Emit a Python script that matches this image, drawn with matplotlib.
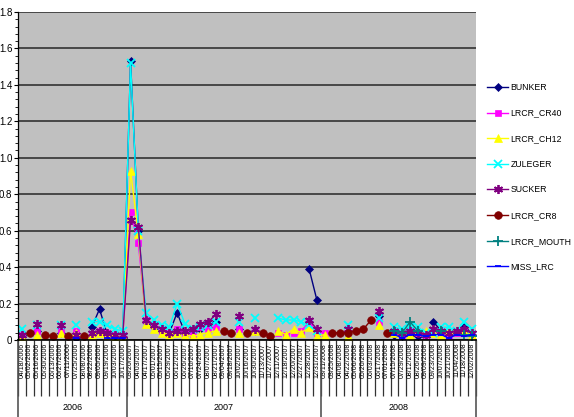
import numpy as np
import matplotlib
matplotlib.use("Agg")
import matplotlib.pyplot as plt
from matplotlib.ticker import MultipleLocator, FixedLocator

plt.rcParams['font.family'] = ['Liberation Sans Narrow', 'Liberation Sans', 'DejaVu Sans']

N = None

# sampling dates (categories)
dates_2006 = ["04/18/2006", "05/02/2006", "05/16/2006", "05/30/2006", "06/13/2006",
              "06/27/2006", "07/11/2006", "07/25/2006", "08/08/2006", "08/22/2006",
              "09/05/2006", "09/19/2006", "10/03/2006", "10/17/2006"]
dates_2007 = ["03/20/2007", "04/03/2007", "04/17/2007", "05/01/2007", "05/15/2007",
              "05/29/2007", "06/12/2007", "06/26/2007", "07/10/2007", "07/24/2007",
              "08/07/2007", "08/21/2007", "09/04/2007", "09/18/2007", "10/02/2007",
              "10/16/2007", "10/30/2007", "11/13/2007", "11/27/2007", "12/11/2007",
              "12/18/2007", "12/20/2007", "12/27/2007", "12/28/2007", "12/31/2007"]
dates_2008 = ["03/11/2008", "03/25/2008", "04/08/2008", "04/22/2008", "05/06/2008",
              "05/20/2008", "06/03/2008", "06/17/2008", "07/01/2008", "07/15/2008",
              "07/29/2008", "08/12/2008", "08/26/2008", "09/09/2008", "09/23/2008",
              "10/07/2008", "10/21/2008", "11/04/2008", "11/18/2008", "12/02/2008"]
years = ["2006", "2007", "2008"]
dates = dates_2006 + dates_2007 + dates_2008

bunker = [0.03, N, 0.05, N, N, 0.04, N, 0.01, N, 0.07, 0.17, 0.03, 0.01, 0.01,
          1.53, 0.60, 0.10, 0.07, 0.05, 0.04, 0.15, 0.04, 0.05, 0.06, 0.07, 0.10, N, N,
          0.06, N, 0.05, N, N, N, N, N, N, 0.39, 0.22,
          N, N, N, N, N, N, N, 0.13, N, 0.03, 0.02, 0.03, 0.02, N, 0.10, 0.05, 0.03, N, 0.08, 0.03]
lrcr_cr40 = [0.03, N, 0.05, N, N, 0.05, N, 0.05, N, 0.03, 0.05, 0.04, 0.03, 0.03,
             0.70, 0.53, 0.11, 0.08, 0.05, 0.04, 0.06, 0.04, 0.03, 0.07, 0.06, 0.07, N, N,
             0.06, N, 0.05, N, N, 0.04, 0.03, 0.04, 0.05, 0.10, 0.04,
             0.04, N, N, N, N, N, N, 0.10, N, 0.04, 0.03, 0.05, 0.04, 0.03, 0.05, 0.03, 0.02, 0.04, 0.05, 0.03]
lrcr_ch12 = [0.02, N, 0.03, N, N, 0.04, N, 0.04, N, 0.03, 0.04, 0.03, 0.02, 0.02,
             0.93, 0.58, 0.09, 0.06, 0.04, 0.03, 0.04, 0.03, 0.02, 0.03, 0.04, 0.05, N, N,
             0.04, N, 0.05, N, N, 0.05, 0.03, 0.06, 0.04, 0.07, 0.02,
             0.03, N, N, 0.02, N, N, N, 0.08, N, 0.04, 0.05, 0.03, 0.05, 0.05, 0.04, 0.03, 0.05, 0.05, 0.05, 0.03]
zuleger = [0.06, N, 0.08, N, N, 0.08, N, 0.08, N, 0.10, 0.10, 0.08, 0.06, 0.05,
           1.52, 0.60, 0.15, 0.11, 0.08, 0.07, 0.20, 0.09, 0.06, 0.07, 0.08, 0.10, N, N,
           0.10, N, 0.12, N, N, 0.12, 0.11, 0.11, 0.10, 0.08, 0.05,
           N, N, N, 0.08, N, N, N, 0.12, N, 0.07, 0.06, 0.07, 0.07, 0.04, 0.04, 0.07, 0.07, 0.05, 0.10, 0.06]
sucker = [0.03, N, 0.09, N, N, 0.08, N, 0.03, N, 0.04, 0.05, 0.04, 0.03, 0.03,
          0.66, 0.62, 0.11, 0.08, 0.06, 0.04, 0.05, 0.05, 0.06, 0.09, 0.10, 0.14, N, N,
          0.13, N, 0.06, N, N, N, N, N, N, 0.11, 0.06,
          N, N, N, 0.06, N, N, N, 0.16, N, 0.05, 0.04, 0.05, 0.04, 0.03, 0.06, 0.05, 0.04, 0.05, 0.06, 0.04]
lrcr_cr8 = [N, 0.04, N, 0.03, 0.02, N, 0.02, N, 0.02, N, N, N, N, N,
            N, N, N, N, N, N, N, N, N, N, N, N, 0.05, 0.04,
            N, 0.04, N, 0.04, 0.02, N, N, N, N, N, N,
            N, 0.04, 0.04, 0.04, 0.05, 0.06, 0.11, N, 0.04, N, N, N, N, N, N, N, N, N, N, N]
lrcr_mouth = [N] * 48 + [0.05, 0.04, 0.10, 0.05, N, N, 0.05, N, N, 0.03, 0.02]
miss_lrc = ([N] * 7 + [0.01, N, N, N, 0.01, 0.01, 0.01] + [N] * 34
            + [0.03, 0.01, 0.03, 0.03, 0.02, 0.03, 0.03, 0.01, 0.03, 0.02, 0.03])

series = [
    ("BUNKER", bunker, "#000080", "D", 4.5),
    ("LRCR_CR40", lrcr_cr40, "#FF00FF", "s", 4.5),
    ("LRCR_CH12", lrcr_ch12, "#FFFF00", "^", 6),
    ("ZULEGER", zuleger, "#00FFFF", "x", 5.5),
    ("SUCKER", sucker, "#800080", (6, 2, 0), 6.5),
    ("LRCR_CR8", lrcr_cr8, "#800000", "o", 5.5),
    ("LRCR_MOUTH", lrcr_mouth, "#008080", "+", 6.5),
    ("MISS_LRC", miss_lrc, "#0000FF", "_", 4.5),
]

fig = plt.figure(figsize=(5.74, 4.17), dpi=100)
ax = fig.add_axes([18 / 574, 77 / 417, 458 / 574, 328 / 417])
ax.set_facecolor("#C0C0C0")

x = np.arange(len(dates))
for name, vals, color, marker, ms in series:
    y = np.array([np.nan if v is None else v for v in vals], dtype=float)
    ax.plot(x, y, color=color, marker=marker, markersize=ms, lw=1,
            markeredgewidth=1.3 if marker in ("x", "+", "_") or isinstance(marker, tuple) else 0.5,
            markeredgecolor=color, label=name)

ax.set_xlim(-0.5, len(dates) - 0.5)
ax.set_ylim(0, 1.8)
ax.set_yticks(np.arange(0, 1.81, 0.2))
ax.set_yticklabels(["0"] + [f"{t:.1f}" for t in np.arange(0.2, 1.81, 0.2)])
ax.yaxis.set_minor_locator(MultipleLocator(0.04))
ax.tick_params(axis="y", which="major", length=3, width=0.8, labelsize=7, pad=1)
ax.tick_params(axis="y", which="minor", length=2, width=0.6)
ax.grid(axis="y", color="#333333", lw=1.2)
ax.set_axisbelow(True)

# category boundary ticks (long) and date labels at centres
ax.xaxis.set_major_locator(FixedLocator(np.arange(len(dates) + 1) - 0.5))
ax.xaxis.set_minor_locator(FixedLocator(x))
ax.set_xticklabels([""] * (len(dates) + 1))
ax.set_xticklabels(dates, minor=True, rotation=90, fontsize=5, va="top")
ax.tick_params(axis="x", which="major", length=40, width=0.9, color="#333333")
ax.tick_params(axis="x", which="minor", length=0, pad=2)

for s in ["top", "right"]:
    ax.spines[s].set_visible(False)
ax.spines["left"].set_linewidth(0.9)
ax.spines["bottom"].set_linewidth(1.2)

# year group separators and labels
bounds = [0, len(dates_2006), len(dates_2006) + len(dates_2007), len(dates)]
trans = ax.get_xaxis_transform()
for b in bounds:
    ax.plot([b - 0.5, b - 0.5], [0, -0.24], transform=trans, color="#555555",
            lw=1.2, clip_on=False)
for i, yr in enumerate(years):
    ax.text((bounds[i] + bounds[i + 1]) / 2 - 0.5, -0.207, yr, transform=trans,
            ha="center", va="center", fontsize=6.5)

leg = ax.legend(loc="upper left", bbox_to_anchor=(487 / 574, 1 - 83 / 417),
                bbox_transform=fig.transFigure, frameon=False, fontsize=6.3,
                handlelength=2.4, handletextpad=0.3, labelspacing=1.9,
                borderaxespad=0, borderpad=0)

fig.savefig("out.png", dpi=100)
